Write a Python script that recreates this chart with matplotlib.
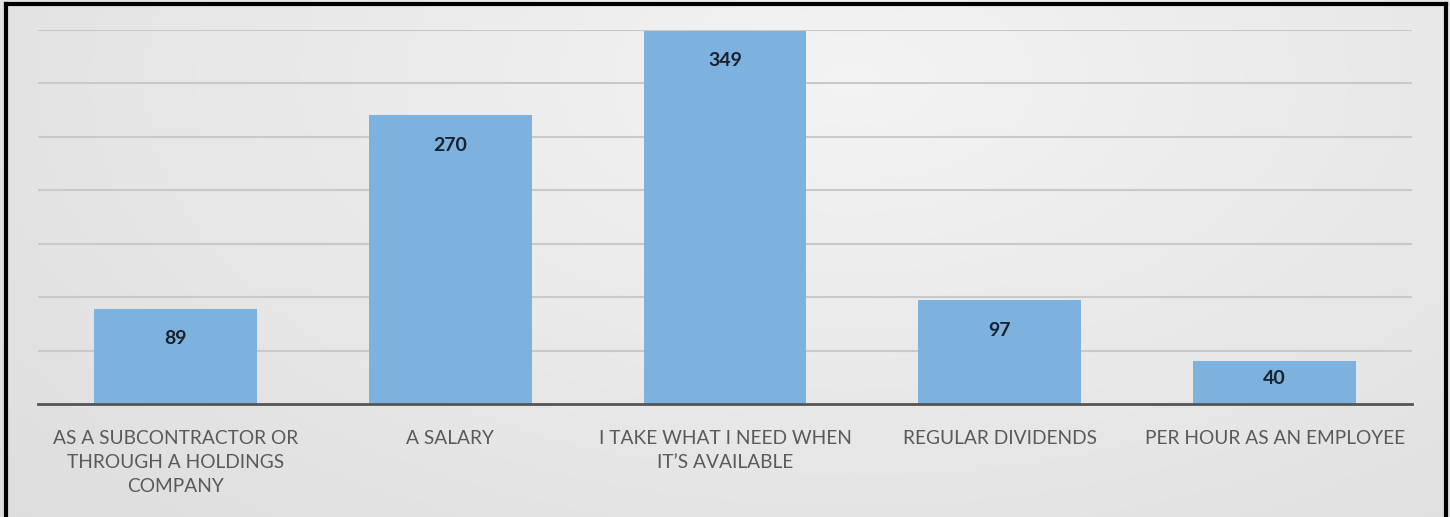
import numpy as np
import matplotlib
matplotlib.use("Agg")
import matplotlib.pyplot as plt
from matplotlib.lines import Line2D

# how owners pay themselves
categories = [
    "AS A SUBCONTRACTOR OR\nTHROUGH A HOLDINGS\nCOMPANY",
    "A SALARY",
    "I TAKE WHAT I NEED WHEN\nIT\u2019S AVAILABLE",
    "REGULAR DIVIDENDS",
    "PER HOUR AS AN EMPLOYEE",
]
counts = [89, 270, 349, 97, 40]

bar_color = "#7DB1DE"
label_color = "#18212F"
tick_color = "#5A5A5A"

W, H = 1450, 517
fig = plt.figure(figsize=(W / 100, H / 100), dpi=100)

# soft radial gradient behind the whole chart
bg = fig.add_axes([0, 0, 1, 1], zorder=-10)
yy, xx = np.mgrid[0:H, 0:W]
r = np.sqrt(((xx - 850) / 1000.0) ** 2 + ((yy - 80) / 560.0) ** 2)
shade = 0.955 - 0.09 * np.clip(r, 0, 1.2) / 1.2
bg.imshow(np.dstack([shade] * 3), aspect="auto", extent=[0, 1, 0, 1],
          interpolation="bilinear")
bg.set_axis_off()

ax = fig.add_axes([38 / W, 1 - 404 / H, (1412 - 38) / W, (404 - 30) / H])
ax.patch.set_alpha(0)

x = np.arange(len(categories))
ax.bar(x, counts, width=0.593, color=bar_color, zorder=3)

ax.set_ylim(0, 350)
ax.set_xlim(-0.5, len(categories) - 0.5)
ax.set_yticks(np.arange(50, 351, 50))
ax.yaxis.grid(True, color="#C9C9C9", linewidth=1.5, zorder=0)
ax.set_axisbelow(True)
ax.tick_params(axis="y", left=False, labelleft=False)
ax.tick_params(axis="x", length=0, pad=18.5)
for s in ["top", "right", "left"]:
    ax.spines[s].set_visible(False)
ax.spines["bottom"].set_color("#555555")
ax.spines["bottom"].set_linewidth(2)
ax.spines["bottom"].set_zorder(4)

ax.set_xticks(x)
ax.set_xticklabels(categories, fontsize=13.8, color=tick_color,
                   family="Lato", linespacing=1.5, va="top")

# value labels sit just inside the top of each bar
for xi, v in zip(x, counts):
    ly = max(v - 28, v * 0.6)
    ax.text(xi, ly, str(v), ha="center", va="center", fontsize=14,
            fontweight="bold", color=label_color, family="Lato", zorder=5)

# dark frame on left, top and right
frame_kw = dict(color="black", linewidth=3, transform=fig.transFigure)
fig.add_artist(Line2D([5.5 / W, 5.5 / W], [0, 1 - 3.5 / H], **frame_kw))
fig.add_artist(Line2D([5.5 / W, 1445.5 / W], [1 - 3.5 / H, 1 - 3.5 / H], **frame_kw))
fig.add_artist(Line2D([1445.5 / W, 1445.5 / W], [0, 1 - 3.5 / H], **frame_kw))

fig.savefig("out.png", dpi=100)
